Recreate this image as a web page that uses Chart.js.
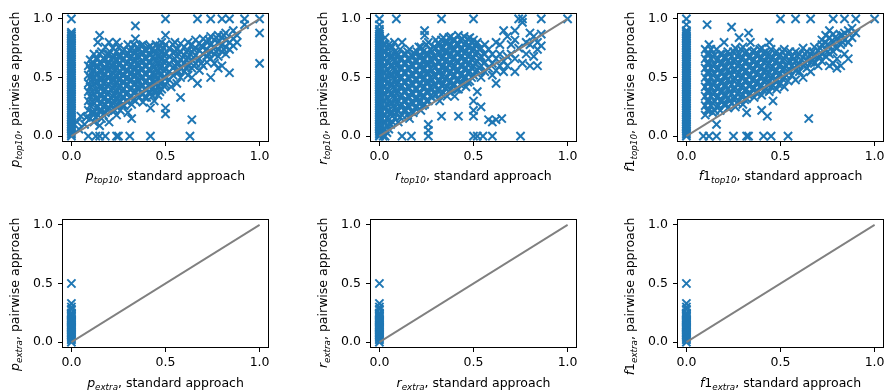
<!DOCTYPE html>
<html><head><meta charset="utf-8">
<script src="https://cdn.jsdelivr.net/npm/chart.js@4/dist/chart.umd.min.js"></script>
<style>
html,body{margin:0;padding:0;background:#fff;overflow:hidden;width:887px;height:391px;}
canvas{position:absolute;}
</style></head><body>
<canvas id="c0" width="300" height="190" style="left:0px;top:0px"></canvas>
<canvas id="c1" width="300" height="190" style="left:308px;top:0px"></canvas>
<canvas id="c2" width="300" height="190" style="left:615px;top:0px"></canvas>
<canvas id="c3" width="300" height="191" style="left:0px;top:200px"></canvas>
<canvas id="c4" width="300" height="191" style="left:308px;top:200px"></canvas>
<canvas id="c5" width="300" height="191" style="left:615px;top:200px"></canvas>
<script>
// ---- data: [standard approach value, [pairwise approach values]] ----
const pTop10Points = [
 [0,[0,0.015,0.03,0.045,0.06,0.075,0.09,0.105,0.12,0.135,0.15,0.165,0.18,0.195,0.21,0.225,0.24,0.255,0.27,0.285,0.3,0.315,0.33,0.345,0.36,0.375,0.39,0.405,0.42,0.435,0.45,0.465,0.48,0.495,0.51,0.525,0.54,0.555,0.57,0.585,0.6,0.615,0.63,0.645,0.66,0.675,0.69,0.705,0.72,0.735,0.75,0.765,0.78,0.795,0.81,0.825,0.84,0.855,0.87,0.885,1.0]],
 [0.03,[0.12]],[0.04,[0.06]],[0.05,[0.17]],[0.07,[0.1]],[0.08,[0.16]],
 [0.09,[0,0.22,0.3,0.38,0.45,0.52,0.6]],
 [0.1,[0.15,0.26,0.34,0.42,0.5,0.57,0.65]],
 [0.12,[0.12,0.2,0.28,0.36,0.44,0.5,0.56,0.62,0.7]],
 [0.13,[0]],
 [0.14,[0.18,0.25,0.31,0.38,0.46,0.53,0.6,0.66,0.8]],
 [0.15,[0,0.09,0.42,0.86]],
 [0.16,[0.15,0.22,0.29,0.35,0.41,0.48,0.55,0.62,0.72]],
 [0.18,[0,0.2,0.27,0.33,0.4,0.47,0.53,0.58,0.65,0.76]],
 [0.2,[0.12,0.24,0.3,0.37,0.44,0.5,0.57,0.63,0.7,0.8]],
 [0.22,[0.21,0.28,0.34,0.41,0.48,0.54,0.6,0.67,0.75]],
 [0.24,[0,0.18,0.25,0.32,0.38,0.45,0.51,0.58,0.64,0.72,0.8]],
 [0.25,[0]],
 [0.26,[0.22,0.3,0.36,0.43,0.49,0.55,0.62,0.68]],
 [0.28,[0.26,0.33,0.4,0.46,0.52,0.59,0.66,0.74]],
 [0.3,[0.2,0.3,0.37,0.44,0.5,0.56,0.63,0.7,0.78]],
 [0.31,[0]],
 [0.32,[0.15,0.27,0.34,0.41,0.48,0.54,0.61,0.68,0.75]],
 [0.34,[0.3,0.38,0.45,0.52,0.58,0.65,0.72,0.83,0.94]],
 [0.36,[0.33,0.4,0.47,0.54,0.6,0.67,0.74]],
 [0.38,[0.29,0.36,0.43,0.5,0.57,0.64,0.71,0.78]],
 [0.4,[0.33,0.4,0.47,0.53,0.6,0.66,0.73]],
 [0.42,[0,0.24,0.37,0.44,0.5,0.56,0.63,0.7,0.77]],
 [0.44,[0.3,0.38,0.46,0.52,0.59,0.66,0.72]],
 [0.46,[0.35,0.42,0.49,0.55,0.62,0.68,0.75]],
 [0.48,[0.4,0.46,0.53,0.6,0.66,0.72,0.8]],
 [0.5,[0.19,0.24,0.44,0.5,0.57,0.64,0.7,0.78,0.86,1.0]],
 [0.52,[0.48,0.55,0.62,0.68,0.75]],
 [0.53,[0.42]],
 [0.54,[0.52,0.58,0.65,0.71,0.78]],
 [0.56,[0.45,0.55,0.62,0.68,0.74]],
 [0.58,[0.33,0.5,0.58,0.65,0.72,0.79]],
 [0.6,[0.55,0.62,0.69,0.76]],
 [0.62,[0.52,0.6,0.67,0.73,0.8]],
 [0.63,[0]],
 [0.64,[0.14,0.5,0.58,0.65,0.72,0.78]],
 [0.66,[0.62,0.69,0.75,0.82]],
 [0.67,[0.45,1.0]],
 [0.68,[0.56,0.66,0.73,0.79]],
 [0.7,[0.6,0.7,0.76,0.83]],
 [0.72,[0.63,0.68,0.74,0.8]],
 [0.74,[0.5,0.66,0.72,0.78,0.85,1.0]],
 [0.76,[0.62,0.7,0.76,0.82]],
 [0.78,[0.58,0.68,0.74,0.8,0.86]],
 [0.8,[0.6,0.72,0.78,0.84,1.0]],
 [0.82,[0.7,0.76,0.82,0.88]],
 [0.84,[0.54,0.74,0.8,1.0]],
 [0.86,[0.77,0.83,0.9]],
 [0.88,[0.8,0.86]],
 [0.92,[0.95,1.0]],
 [1.0,[0.62,0.88,1.0]],
 [0.11,[0.2,0.3,0.38,0.46,0.53,0.61]],
 [0.13,[0.16,0.24,0.32,0.4,0.47,0.53,0.59,0.66]],
 [0.15,[0.22,0.28,0.35,0.49,0.56,0.63,0.7]],
 [0.17,[0.18,0.25,0.32,0.38,0.45,0.51,0.58,0.66]],
 [0.19,[0.23,0.3,0.36,0.43,0.5,0.56,0.61,0.7]],
 [0.21,[0.27,0.33,0.4,0.47,0.53,0.6,0.66]],
 [0.23,[0.22,0.29,0.35,0.42,0.48,0.55,0.61,0.68]],
 [0.25,[0.28,0.34,0.41,0.48,0.54,0.61,0.68,0.76]],
 [0.27,[0.26,0.33,0.39,0.46,0.52,0.58,0.65,0.72]],
 [0.29,[0.3,0.36,0.43,0.49,0.56,0.62,0.69]],
 [0.31,[0.33,0.4,0.47,0.53,0.59,0.66,0.73]],
 [0.33,[0.31,0.37,0.44,0.51,0.57,0.64,0.71,0.78]],
 [0.35,[0.35,0.42,0.49,0.55,0.62,0.69,0.76]],
 [0.37,[0.37,0.43,0.5,0.57,0.63,0.7,0.77]],
 [0.39,[0.33,0.4,0.46,0.53,0.6,0.67,0.74]],
 [0.41,[0.37,0.43,0.5,0.57,0.63,0.7,0.76]],
 [0.43,[0.34,0.41,0.47,0.53,0.6,0.67,0.74]],
 [0.45,[0.39,0.45,0.52,0.58,0.65,0.71,0.78]],
 [0.47,[0.38,0.45,0.52,0.58,0.64,0.7,0.77]],
 [0.49,[0.43,0.5,0.56,0.63,0.69,0.75]],
 [0.55,[0.6,0.66,0.72,0.8]],
 [0.57,[0.55,0.62,0.7]],
 [0.61,[0.58,0.65,0.72]],
 [0.65,[0.6,0.67,0.74]],
 [0.69,[0.62,0.77]],
 [0.73,[0.7,0.82]],
 [0.77,[0.72,0.84]],
 [0.81,[0.74,0.86]]
];
const rTop10Points = [
 [0,[0,0.015,0.03,0.045,0.06,0.075,0.09,0.105,0.12,0.135,0.15,0.165,0.18,0.195,0.21,0.225,0.24,0.255,0.27,0.285,0.3,0.315,0.33,0.345,0.36,0.375,0.39,0.405,0.42,0.435,0.45,0.465,0.48,0.495,0.51,0.525,0.54,0.555,0.57,0.585,0.6,0.615,0.63,0.645,0.66,0.675,0.69,0.705,0.72,0.735,0.75,0.765,0.78,0.795,0.81,0.825,0.84,0.855,0.87,0.89,0.91,0.95,1.0]],
 [0.01,[0.03,0.09,0.15,0.21,0.27,0.33,0.39,0.45,0.51,0.57,0.63,0.69,0.75,0.81]],
 [0.02,[0,0.06,0.12,0.18,0.24,0.3,0.36,0.42,0.48,0.54,0.6,0.66,0.72,0.78]],
 [0.03,[0,0.06,0.12,0.18,0.24,0.3,0.36,0.42,0.48,0.54,0.6,0.66,0.72,0.78,0.84]],
 [0.04,[0.03,0.09,0.15,0.21,0.27,0.33,0.39,0.45,0.51,0.57,0.63,0.69,0.75]],
 [0.05,[0.06,0.14,0.22,0.3,0.38,0.46,0.54,0.62,0.7,0.78]],
 [0.06,[0.1,0.2,0.28,0.36,0.44,0.52,0.6,0.68,0.76]],
 [0.07,[0.12,0.2,0.28,0.36,0.44,0.52,0.6,0.68,0.76]],
 [0.08,[0.15,0.24,0.32,0.4,0.48,0.56,0.64,0.72,0.8]],
 [0.09,[0.2,0.28,0.36,0.44,0.52,0.6,0.68,1.0]],
 [0.1,[0.12,0.22,0.3,0.38,0.46,0.54,0.62,0.7]],
 [0.12,[0,0.18,0.27,0.35,0.43,0.5,0.58,0.66,0.8]],
 [0.14,[0.22,0.3,0.38,0.46,0.54,0.62,0.7]],
 [0.16,[0.15,0.25,0.33,0.41,0.49,0.57,0.65,0.74]],
 [0.17,[0]],
 [0.18,[0.2,0.28,0.36,0.44,0.52,0.6,0.68]],
 [0.2,[0.25,0.32,0.4,0.48,0.56,0.64,0.72]],
 [0.22,[0.22,0.3,0.37,0.45,0.52,0.6,0.68,0.76]],
 [0.24,[0.27,0.34,0.42,0.5,0.58,0.66,0.86,0.9]],
 [0.26,[0,0.05,0.1,0.3,0.38,0.46,0.54,0.62,0.7,0.8]],
 [0.28,[0.33,0.4,0.48,0.56,0.64,0.72]],
 [0.3,[0.35,0.43,0.51,0.59,0.67,0.75,0.82]],
 [0.32,[0.3,0.4,0.47,0.55,0.63,0.7,0.78]],
 [0.33,[0.17,1.0]],
 [0.34,[0.37,0.45,0.53,0.6,0.68,0.76,0.84]],
 [0.36,[0.34,0.42,0.5,0.58,0.65,0.72,0.8]],
 [0.38,[0.4,0.47,0.55,0.62,0.7,0.78,0.85]],
 [0.4,[0.34,0.44,0.52,0.6,0.67,0.74,0.82]],
 [0.42,[0.17,0.4,0.48,0.56,0.63,0.7,0.78,0.86]],
 [0.44,[0.45,0.53,0.6,0.68,0.75,0.83]],
 [0.46,[0.42,0.5,0.58,0.65,0.72,0.8]],
 [0.48,[0.47,0.55,0.62,0.7,0.77,0.84]],
 [0.5,[0,0.17,0.22,0.3,0.52,0.6,0.67,0.74,0.82,1.0]],
 [0.52,[0,0.38,0.56,0.64,0.72,0.8]],
 [0.54,[0.25,0.5,0.6,0.68,0.75]],
 [0.55,[0]],
 [0.56,[0.55,0.63,0.7,0.78]],
 [0.58,[0.14,0.58,0.66,0.74]],
 [0.6,[0,0.12,0.52,0.62,0.7]],
 [0.62,[0.14,0.45,0.56,0.66,0.8]],
 [0.64,[0.6,0.7,0.78]],
 [0.65,[0.15]],
 [0.66,[0.55,0.64,0.9]],
 [0.68,[0.6,0.68,0.85]],
 [0.7,[0.7,0.78]],
 [0.72,[0.55,0.66,0.82,0.9]],
 [0.74,[0.75,1.0]],
 [0.75,[0]],
 [0.76,[0.62,0.97,1.0]],
 [0.78,[0.7,0.8]],
 [0.8,[0.6,0.78,0.88]],
 [0.82,[0.68,0.85]],
 [0.84,[0.6,0.74,0.8]],
 [0.86,[0.77,0.87,1.0]],
 [1.0,[1.0]],
 [0.11,[0.16,0.26,0.34,0.42,0.5,0.58,0.66,0.74]],
 [0.13,[0.22,0.3,0.38,0.46,0.54,0.62,0.7]],
 [0.15,[0.18,0.26,0.34,0.42,0.5,0.58,0.66,0.72]],
 [0.17,[0.21,0.29,0.37,0.45,0.53,0.61,0.69]],
 [0.19,[0.24,0.32,0.4,0.48,0.56,0.64,0.7]],
 [0.21,[0.28,0.36,0.44,0.52,0.6,0.68,0.76]],
 [0.23,[0.26,0.34,0.41,0.48,0.56,0.64,0.72]],
 [0.25,[0.3,0.38,0.46,0.54,0.62,0.7,0.78]],
 [0.27,[0.34,0.42,0.5,0.58,0.66,0.74]],
 [0.29,[0.37,0.44,0.52,0.6,0.68,0.76]],
 [0.31,[0.39,0.47,0.55,0.63,0.71,0.79]],
 [0.33,[0.36,0.43,0.51,0.59,0.66,0.74,0.82]],
 [0.35,[0.41,0.49,0.57,0.64,0.72,0.8]],
 [0.37,[0.38,0.46,0.54,0.61,0.68,0.76,0.84]],
 [0.39,[0.44,0.51,0.58,0.66,0.74,0.82]],
 [0.41,[0.4,0.48,0.56,0.64,0.71,0.79]],
 [0.43,[0.44,0.52,0.6,0.67,0.74,0.82]],
 [0.45,[0.5,0.57,0.64,0.71,0.78,0.85]],
 [0.47,[0.46,0.54,0.61,0.68,0.76,0.83]],
 [0.49,[0.5,0.58,0.66,0.73,0.8]],
 [0.51,[0.55,0.62,0.7,0.78]],
 [0.53,[0.58,0.66,0.74]]
];
const f1Top10Points = [
 [0,[0,0.015,0.03,0.045,0.06,0.075,0.09,0.105,0.12,0.135,0.15,0.165,0.18,0.195,0.21,0.225,0.24,0.255,0.27,0.285,0.3,0.315,0.33,0.345,0.36,0.375,0.39,0.405,0.42,0.435,0.45,0.465,0.48,0.495,0.51,0.525,0.54,0.555,0.57,0.585,0.6,0.615,0.63,0.645,0.66,0.675,0.69,0.705,0.72,0.735,0.75,0.765,0.78,0.795,0.81,0.825,0.84,0.855,0.87,0.885,0.9,0.95,1.0]],
 [0.09,[0]],
 [0.1,[0.18,0.26,0.34,0.42,0.5,0.58,0.66,0.74]],
 [0.11,[0.95]],
 [0.12,[0,0.22,0.3,0.38,0.46,0.54,0.62,0.7,0.78]],
 [0.14,[0.2,0.28,0.36,0.44,0.52,0.6,0.68]],
 [0.16,[0,0.1,0.25,0.33,0.41,0.49,0.57,0.65,0.74]],
 [0.18,[0.22,0.3,0.38,0.46,0.54,0.62,0.7]],
 [0.2,[0.27,0.35,0.43,0.51,0.59,0.67,0.8]],
 [0.22,[0.24,0.32,0.4,0.48,0.56,0.64,0.72]],
 [0.24,[0.28,0.36,0.44,0.52,0.6,0.68,0.93]],
 [0.25,[0]],
 [0.26,[0.25,0.33,0.41,0.49,0.57,0.65,0.75]],
 [0.28,[0.3,0.38,0.46,0.54,0.62,0.7,0.84]],
 [0.3,[0.27,0.35,0.43,0.51,0.59,0.67,0.76]],
 [0.32,[0,0.2,0.32,0.4,0.48,0.56,0.64,0.72]],
 [0.33,[0,0.88]],
 [0.34,[0.36,0.44,0.52,0.6,0.68,0.8]],
 [0.36,[0.33,0.41,0.49,0.57,0.65,0.73]],
 [0.38,[0.38,0.46,0.54,0.62,0.7]],
 [0.4,[0.22,0.35,0.43,0.51,0.59,0.67,0.75]],
 [0.41,[0]],
 [0.42,[0.4,0.48,0.56,0.64,0.72]],
 [0.43,[0.17]],
 [0.44,[0.38,0.46,0.54,0.62,0.7,0.8]],
 [0.45,[0]],
 [0.46,[0.3,0.43,0.51,0.59,0.67]],
 [0.48,[0.4,0.48,0.56,0.64,0.72]],
 [0.5,[0.45,0.53,0.61,0.69,1.0]],
 [0.52,[0.42,0.5,0.58,0.66,0.74]],
 [0.54,[0,0.47,0.55,0.63,0.71]],
 [0.56,[0.52,0.6,0.68]],
 [0.58,[0.48,0.56,0.64,0.72,1.0]],
 [0.6,[0.55,0.62,0.7]],
 [0.62,[0.5,0.6,0.67,0.75]],
 [0.64,[0.58,0.65,0.72]],
 [0.65,[0.15]],
 [0.66,[0.55,0.63,0.7,1.0]],
 [0.68,[0.62,0.68,0.76]],
 [0.7,[0.6,0.67,0.73]],
 [0.72,[0.64,0.7,0.78,0.82]],
 [0.74,[0.68,0.74,0.8,0.86]],
 [0.76,[0.6,0.7,0.77,0.84,0.9]],
 [0.78,[0.62,0.72,0.8,0.87,1.0]],
 [0.8,[0.58,0.66,0.75,0.83]],
 [0.82,[0.6,0.78,0.86]],
 [0.84,[0.7,0.82,0.88,1.0]],
 [0.86,[0.66,0.8,0.9]],
 [0.88,[0.84,0.92]],
 [0.9,[0.88,1.0]],
 [1.0,[1.0]],
 [0.11,[0.22,0.3,0.38,0.46,0.54,0.62,0.7]],
 [0.13,[0.26,0.34,0.42,0.5,0.58,0.66,0.74]],
 [0.15,[0.22,0.3,0.37,0.45,0.53,0.61,0.69]],
 [0.17,[0.26,0.34,0.42,0.5,0.58,0.66]],
 [0.19,[0.3,0.38,0.46,0.54,0.62,0.7]],
 [0.21,[0.27,0.35,0.43,0.51,0.59,0.67]],
 [0.23,[0.3,0.38,0.46,0.54,0.62,0.7]],
 [0.25,[0.32,0.4,0.48,0.56,0.64,0.72]],
 [0.27,[0.28,0.36,0.44,0.52,0.6,0.68]],
 [0.29,[0.34,0.42,0.5,0.58,0.66,0.74]],
 [0.31,[0.31,0.39,0.47,0.55,0.63,0.71]],
 [0.33,[0.35,0.43,0.51,0.59,0.67]],
 [0.35,[0.4,0.48,0.56,0.64,0.72]],
 [0.37,[0.37,0.45,0.53,0.61,0.69]],
 [0.39,[0.42,0.5,0.58,0.66,0.74]],
 [0.41,[0.39,0.47,0.55,0.63,0.71]],
 [0.43,[0.44,0.52,0.6,0.68]],
 [0.45,[0.42,0.5,0.58,0.66,0.74]],
 [0.47,[0.47,0.55,0.63,0.71]],
 [0.49,[0.44,0.52,0.6,0.68]],
 [0.51,[0.49,0.57,0.65,0.72]],
 [0.53,[0.52,0.6,0.68]],
 [0.55,[0.56,0.64,0.72]],
 [0.57,[0.58,0.66]],
 [0.59,[0.6,0.68]],
 [0.63,[0.62,0.7]],
 [0.67,[0.65,0.72]],
 [0.71,[0.68,0.75]],
 [0.75,[0.72,0.78]],
 [0.79,[0.76,0.84]],
 [0.83,[0.8,0.86]]
];
const pExtraPoints  = [[0,[0,0.02,0.03,0.04,0.05,0.06,0.07,0.08,0.09,0.1,0.11,0.12,0.13,0.14,0.15,0.16,0.17,0.18,0.19,0.2,0.21,0.22,0.23,0.24,0.25,0.28,0.3,0.33,0.5]]];
const rExtraPoints  = [[0,[0,0.02,0.03,0.04,0.05,0.06,0.07,0.08,0.09,0.1,0.11,0.12,0.13,0.14,0.15,0.16,0.17,0.18,0.19,0.2,0.21,0.22,0.23,0.24,0.25,0.28,0.3,0.33,0.5]]];
const f1ExtraPoints = [[0,[0,0.02,0.03,0.04,0.05,0.06,0.07,0.08,0.09,0.1,0.11,0.12,0.13,0.14,0.15,0.16,0.17,0.18,0.19,0.2,0.21,0.22,0.23,0.24,0.25,0.28,0.3,0.33,0.5]]];
const tickValues = [0, 0.5, 1.0];
const diagonal = [0, 1];
const axisMin = -0.05, axisMax = 1.05;

// ---- drawing ----
const FAM = '"DejaVu Sans"';
const symbols = {
  p:  [{t:'p', it:true}],
  r:  [{t:'r', it:true}],
  f1: [{t:'f', it:true},{t:'1', it:false}]
};
function segsFor(sym, sub, rest){
  const s = symbols[sym].map(o=>({t:o.t, font:(o.it?'italic ':'')+'12.5px '+FAM, dy:0}));
  s.push({t:sub, font:'italic 8.75px '+FAM, dy:3});
  s.push({t:rest, font:'12.5px '+FAM, dy:0});
  return s;
}
function richWidth(ctx, segs){ let w=0; for(const s of segs){ctx.font=s.font; w+=ctx.measureText(s.t).width;} return w; }
function drawRich(ctx, segs, x, y){ let cx=x; for(const s of segs){ctx.font=s.font; ctx.fillText(s.t, cx, y+s.dy); cx+=ctx.measureText(s.t).width;} }

const decor = {
  id:'decor',
  afterDraw(chart, args, o){
    const ctx = chart.ctx, a = chart.chartArea;
    ctx.save();
    ctx.strokeStyle = '#000'; ctx.lineWidth = 1;
    ctx.strokeRect(a.left+0.5, a.top+0.5, a.right-a.left-1, a.bottom-a.top-1);
    ctx.fillStyle = '#000'; ctx.textBaseline = 'alphabetic'; ctx.textAlign = 'left';
    const xs = segsFor(o.sym, o.sub, ', standard approach');
    const xw = richWidth(ctx, xs);
    drawRich(ctx, xs, (a.left+a.right)/2 - xw/2, o.xBase);
    const ys = segsFor(o.sym, o.sub, ', pairwise approach');
    const yw = richWidth(ctx, ys);
    ctx.translate(18.5, a.top - 1.5 + yw);
    ctx.rotate(-Math.PI/2);
    drawRich(ctx, ys, 0, 0);
    ctx.restore();
  }
};

function toXY(cols){ const out=[]; for(const [x, ys] of cols) for(const y of ys) out.push({x:x, y:y}); return out; }

const panels = [
  {id:'c0', pts:pTop10Points,  sym:'p',  sub:'top10', topPad:13, xH:48, xBase:179.5},
  {id:'c1', pts:rTop10Points,  sym:'r',  sub:'top10', topPad:13, xH:48, xBase:179.5},
  {id:'c2', pts:f1Top10Points, sym:'f1', sub:'top10', topPad:13, xH:48, xBase:179.5},
  {id:'c3', pts:pExtraPoints,  sym:'p',  sub:'extra', topPad:19, xH:43, xBase:186.5},
  {id:'c4', pts:rExtraPoints,  sym:'r',  sub:'extra', topPad:19, xH:43, xBase:186.5},
  {id:'c5', pts:f1ExtraPoints, sym:'f1', sub:'extra', topPad:19, xH:43, xBase:186.5}
];

function scaleOpts(isX, p){
  return {
    type:'linear', min:axisMin, max:axisMax,
    afterBuildTicks: s => { s.ticks = tickValues.map(v => ({value:v})); },
    afterFit: s => { if(isX) s.height = p.xH; else s.width = 62; },
    ticks:{ font:{family:'DejaVu Sans', size:12.5}, color:'#000', padding: isX?3:5, maxRotation:0, autoSkip:false,
            callback: v => Number(v).toFixed(1) },
    grid:{ display:true, drawOnChartArea:false, drawTicks:true, tickLength:4, color:'#000', lineWidth:1 },
    border:{ display:false }
  };
}

for(const p of panels){
  new Chart(document.getElementById(p.id), {
    type:'scatter',
    data:{ datasets:[
      { data: diagonal.map(v=>({x:v, y:v})), showLine:true, borderColor:'#808080', borderWidth:1.8,
        pointRadius:0, order:0, clip:false },
      { data: toXY(p.pts), pointStyle:'crossRot', pointRadius:5.8, pointHoverRadius:5.8,
        borderColor:'#1f77b4', pointBorderColor:'#1f77b4', backgroundColor:'#1f77b4',
        pointBorderWidth:2, borderWidth:2, order:1, clip:false }
    ]},
    options:{
      responsive:false, animation:false, events:[],
      layout:{ padding:{ left:0, right:31, top:p.topPad, bottom:0 } },
      plugins:{ legend:{display:false}, tooltip:{enabled:false}, decor:{ sym:p.sym, sub:p.sub, xBase:p.xBase } },
      scales:{ x: scaleOpts(true, p), y: scaleOpts(false, p) }
    },
    plugins:[decor]
  });
}
</script>
</body></html>
